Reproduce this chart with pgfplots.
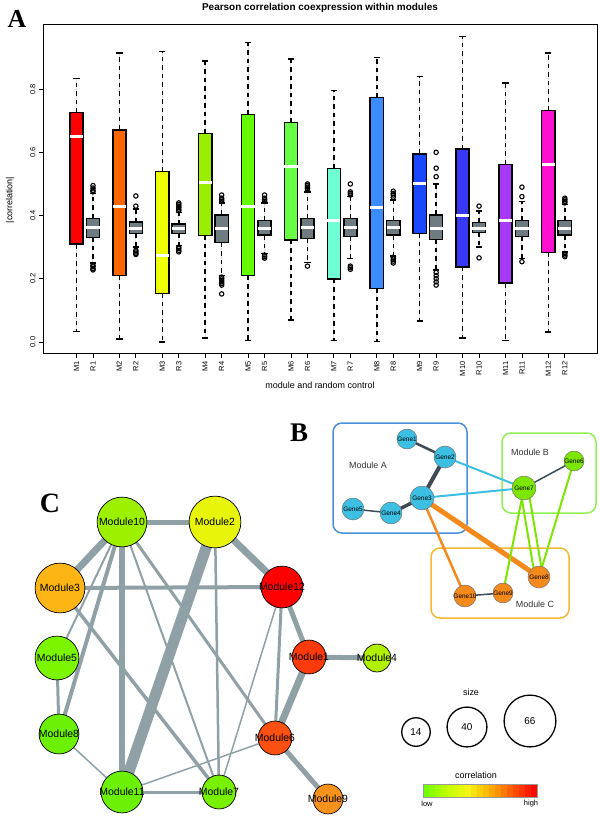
\documentclass[border=0pt]{standalone}
\usepackage{fontspec}
\setmainfont{Liberation Sans}
\newfontfamily\serifbold{Liberation Serif}
\usepackage{pgfplots}
\pgfplotsset{compat=1.18}
\usepgfplotslibrary{statistics}

% panel A box colours
\definecolor{cM1}{HTML}{FF0000}
\definecolor{cM2}{HTML}{FF6600}
\definecolor{cM3}{HTML}{EEFF00}
\definecolor{cM4}{HTML}{99EE00}
\definecolor{cM5}{HTML}{66FF00}
\definecolor{cM6}{HTML}{66FF44}
\definecolor{cM7}{HTML}{70FFD2}
\definecolor{cM8}{HTML}{3A8CFF}
\definecolor{cM9}{HTML}{1A48FF}
\definecolor{cM10}{HTML}{3838F5}
\definecolor{cM11}{HTML}{A838F8}
\definecolor{cM12}{HTML}{FF10D0}
\definecolor{rgrey}{HTML}{6E7B80}
% networks
\definecolor{edgec}{HTML}{8FA1A6}
\definecolor{gA}{HTML}{3CBFE3}
\definecolor{gB}{HTML}{7DE600}
\definecolor{gC}{HTML}{F58A1C}
\definecolor{dk}{HTML}{3E4A54}
\definecolor{boxA}{HTML}{4A8FDB}
\definecolor{boxB}{HTML}{92EE55}
\definecolor{boxC}{HTML}{F7B733}
\definecolor{n10}{HTML}{9CF000}
\definecolor{n2}{HTML}{E8F50A}
\definecolor{n3}{HTML}{FDB515}
\definecolor{n12}{HTML}{FF0000}
\definecolor{n1}{HTML}{FA3A0A}
\definecolor{n4}{HTML}{B0F000}
\definecolor{n5}{HTML}{7CF500}
\definecolor{n8}{HTML}{6CF005}
\definecolor{n11}{HTML}{6CF005}
\definecolor{n7}{HTML}{78F000}
\definecolor{n6}{HTML}{FA5012}
\definecolor{n9}{HTML}{F7921C}

\pgfplotsset{
  colormap={corr}{rgb255=(102,255,0) rgb255=(190,255,0) rgb255=(245,245,20) rgb255=(255,170,0) rgb255=(255,80,0) rgb255=(255,0,0)},
  boxplot/draw/lower whisker/.code={%
    \draw[black, dash pattern=on 4.5bp off 4bp, line width=1.5bp]
      (boxplot whisker cs:\pgfplotsboxplotvalue{lower quartile},0.5) --
      (boxplot whisker cs:\pgfplotsboxplotvalue{lower whisker},0.5);
    \draw[black, solid, line width=1.5bp]
      (boxplot whisker cs:\pgfplotsboxplotvalue{lower whisker},0) --
      (boxplot whisker cs:\pgfplotsboxplotvalue{lower whisker},1);
  },
  boxplot/draw/upper whisker/.code={%
    \draw[black, dash pattern=on 4.5bp off 4bp, line width=1.5bp]
      (boxplot whisker cs:\pgfplotsboxplotvalue{upper quartile},0.5) --
      (boxplot whisker cs:\pgfplotsboxplotvalue{upper whisker},0.5);
    \draw[black, solid, line width=1.5bp]
      (boxplot whisker cs:\pgfplotsboxplotvalue{upper whisker},0) --
      (boxplot whisker cs:\pgfplotsboxplotvalue{upper whisker},1);
  },
}

% position, colour, lw, lq, median, uq, uw, outliers
\newcommand{\bx}[8]{\addplot[boxplot prepared={draw direction=y, draw position=#1,
  lower whisker=#3, lower quartile=#4, median=#5, upper quartile=#6, upper whisker=#7,
  box extend=0.8, whisker extend=0.38,
  every median/.style={draw=white, line width=3bp}},
  draw=black, fill=#2, line width=1.5bp, mark=o, mark size=2.2bp,
  mark options={solid, black, line width=1.1bp}] coordinates {#8};}

\begin{document}
\begin{tikzpicture}
\useasboundingbox (0bp,0bp) rectangle (600bp,819bp);

% ---------- panel A ----------
\begin{axis}[
  at={(43bp,465bp)}, anchor=south west,
  width=554bp, height=329bp, scale only axis,
  xmin=-1.03, xmax=32.55, ymin=-0.038, ymax=1.003,
  axis line style={line width=1bp},
  tick align=outside, major tick length=4bp, tick pos=left,
  tick style={black, line width=0.8bp},
  xtick={1,2,3.6,4.6,6.2,7.2,8.8,9.8,11.4,12.4,14,15,16.6,17.6,19.2,20.2,21.8,22.8,24.4,25.4,27,28,29.6,30.6},
  xticklabels={M1,R1,M2,R2,M3,R3,M4,R4,M5,R5,M6,R6,M7,R7,M8,R8,M9,R9,M10,R10,M11,R11,M12,R12},
  xticklabel style={rotate=90, anchor=east, font=\fontsize{7.5}{8}\selectfont},
  ytick={0,0.2,0.4,0.6,0.8},
  yticklabels={0.0,0.2,0.4,0.6,0.8},
  yticklabel style={rotate=90, anchor=south, font=\fontsize{7.5}{8}\selectfont},
]
\bx{1}{cM1}{0.033}{0.31}{0.65}{0.726}{0.834}{}
\bx{2}{rgrey}{0.25}{0.331}{0.363}{0.391}{0.47}{(0.475,0.475) (0.48,0.48) (0.487,0.487) (0.495,0.495) (0.243,0.243) (0.238,0.238) (0.232,0.232) (0.228,0.228)}
\bx{3.6}{cM2}{0.01}{0.21}{0.428}{0.671}{0.914}{}
\bx{4.6}{rgrey}{0.30}{0.344}{0.36}{0.379}{0.42}{(0.43,0.43) (0.462,0.462) (0.29,0.29) (0.285,0.285) (0.28,0.28) (0.277,0.277)}
\bx{6.2}{cM3}{0.0}{0.154}{0.275}{0.539}{0.919}{}
\bx{7.2}{rgrey}{0.305}{0.344}{0.358}{0.373}{0.41}{(0.415,0.415) (0.42,0.42) (0.425,0.425) (0.43,0.43) (0.435,0.435) (0.44,0.44) (0.30,0.30) (0.296,0.296) (0.29,0.29) (0.285,0.285)}
\bx{8.8}{cM4}{0.013}{0.337}{0.504}{0.66}{0.889}{}
\bx{9.8}{rgrey}{0.21}{0.314}{0.358}{0.402}{0.44}{(0.445,0.445) (0.45,0.45) (0.455,0.455) (0.465,0.465) (0.205,0.205) (0.2,0.2) (0.195,0.195) (0.19,0.19) (0.185,0.185) (0.18,0.18) (0.152,0.152)}
\bx{11.4}{cM5}{0.004}{0.21}{0.428}{0.72}{0.947}{}
\bx{12.4}{rgrey}{0.28}{0.338}{0.36}{0.384}{0.44}{(0.445,0.445) (0.45,0.45) (0.455,0.455) (0.465,0.465) (0.275,0.275) (0.27,0.27) (0.265,0.265)}
\bx{14}{cM6}{0.07}{0.323}{0.555}{0.694}{0.895}{}
\bx{15}{rgrey}{0.251}{0.328}{0.363}{0.391}{0.475}{(0.48,0.48) (0.485,0.485) (0.49,0.49) (0.495,0.495) (0.5,0.5) (0.24,0.24)}
\bx{16.6}{cM7}{0.004}{0.2}{0.384}{0.549}{0.795}{}
\bx{17.6}{rgrey}{0.264}{0.333}{0.363}{0.391}{0.46}{(0.465,0.465) (0.47,0.47) (0.475,0.475) (0.5,0.5) (0.24,0.24) (0.235,0.235) (0.23,0.23)}
\bx{19.2}{cM8}{0.002}{0.17}{0.426}{0.773}{0.9}{}
\bx{20.2}{rgrey}{0.272}{0.338}{0.363}{0.384}{0.45}{(0.458,0.458) (0.465,0.465) (0.47,0.47) (0.477,0.477) (0.268,0.268) (0.262,0.262) (0.256,0.256) (0.25,0.25)}
\bx{21.8}{cM9}{0.067}{0.344}{0.502}{0.595}{0.84}{}
\bx{22.8}{rgrey}{0.228}{0.325}{0.36}{0.402}{0.50}{(0.523,0.523) (0.55,0.55) (0.6,0.6) (0.22,0.22) (0.21,0.21) (0.2,0.2) (0.19,0.19) (0.18,0.18)}
\bx{24.4}{cM10}{0.013}{0.238}{0.401}{0.61}{0.966}{}
\bx{25.4}{rgrey}{0.30}{0.347}{0.36}{0.378}{0.415}{(0.43,0.43) (0.266,0.266)}
\bx{27}{cM11}{0.005}{0.186}{0.384}{0.562}{0.82}{}
\bx{28}{rgrey}{0.264}{0.333}{0.358}{0.384}{0.445}{(0.46,0.46) (0.49,0.49) (0.254,0.254)}
\bx{29.6}{cM12}{0.032}{0.283}{0.562}{0.732}{0.915}{}
\bx{30.6}{rgrey}{0.285}{0.338}{0.36}{0.384}{0.435}{(0.44,0.44) (0.445,0.445) (0.45,0.45) (0.455,0.455) (0.28,0.28) (0.275,0.275) (0.27,0.27)}
\end{axis}

% ---------- panels B and C, pixel frame ----------
\begin{axis}[
  at={(0bp,0bp)}, anchor=south west,
  width=600bp, height=819bp, scale only axis,
  xmin=0, xmax=600, ymin=0, ymax=819, y dir=reverse,
  hide axis, point meta min=423, point meta max=537,
]
% texts of panel A
\node[font=\bfseries\fontsize{10}{12}\selectfont] at (axis cs:320,8) {Pearson correlation coexpression within modules};
\node[font=\serifbold\bfseries\fontsize{26}{28}\selectfont] at (axis cs:17,19) {A};
\node[rotate=90, font=\fontsize{9}{10}\selectfont] at (axis cs:10,200) {|correlation|};
\node[font=\fontsize{9}{10}\selectfont] at (axis cs:320,385) {module and random control};
\node[font=\serifbold\bfseries\fontsize{27}{29}\selectfont] at (axis cs:299,433) {B};
\node[font=\serifbold\bfseries\fontsize{28}{30}\selectfont] at (axis cs:50,503) {C};

% ---- panel B: module frames
\addplot[boxA, line width=1.5bp, rounded corners=9bp] coordinates {(400,423) (467,423) (467,533) (333,533) (333,423) (400,423)};
\addplot[boxB, line width=1.5bp, rounded corners=9bp] coordinates {(549,433) (596,433) (596,513) (502,513) (502,433) (549,433)};
\addplot[boxC, line width=1.5bp, rounded corners=9bp] coordinates {(500,548) (569,548) (569,618) (431,618) (431,548) (500,548)};
\node[font=\fontsize{9}{10}\selectfont, text=black!80] at (axis cs:368,465) {Module A};
\node[font=\fontsize{9}{10}\selectfont, text=black!80] at (axis cs:530,452) {Module B};
\node[font=\fontsize{9}{10}\selectfont, text=black!80] at (axis cs:535,604) {Module C};
% ---- panel B: edges
\addplot[dk, line width=2.5bp] coordinates {(407,439) (445,457)};
\addplot[dk, line width=4bp] coordinates {(445,457) (422,498)};
\addplot[dk, line width=3.5bp] coordinates {(422,498) (391,513)};
\addplot[dk, line width=1.5bp] coordinates {(391,513) (353,509)};
\addplot[gA, line width=2bp] coordinates {(445,457) (524,488)};
\addplot[gA, line width=2bp] coordinates {(422,498) (524,488)};
\addplot[dk, line width=1.5bp] coordinates {(524,488) (574,461)};
\addplot[gC, line width=5bp] coordinates {(422,498) (539,577)};
\addplot[gC, line width=2.5bp] coordinates {(422,498) (465,596)};
\addplot[dk, line width=1.5bp] coordinates {(465,596) (503,593)};
\addplot[gB, line width=2bp] coordinates {(524,488) (503,593)};
\addplot[gB, line width=2bp] coordinates {(520,488) (535,577)};
\addplot[gB, line width=2bp] coordinates {(528,488) (543,577)};
\addplot[gB, line width=2bp] coordinates {(574,461) (539,577)};
% ---- panel B: genes
\addplot[scatter, only marks, point meta=explicit symbolic,
  scatter/classes={
    gA={mark=*, fill=gA, draw=black!55, line width=0.5bp},
    gB={mark=*, fill=gB, draw=black!55, line width=0.5bp},
    gC={mark=*, fill=gC, draw=black!55, line width=0.5bp}},
  visualization depends on={\thisrow{r}\as\rad},
  scatter/@pre marker code/.append style={/tikz/mark size=\rad}]
  table[meta=c] {
x y r c
407 439 10 gA
445 457 11 gA
422 498 12 gA
391 513 11 gA
353 509 11 gA
574 461 10 gB
524 488 12 gB
539 577 11 gC
503 593 10 gC
465 596 11 gC
};
\addplot[only marks, mark=none,
  visualization depends on={value \thisrow{name}\as\lab},
  nodes near coords={\lab},
  every node near coord/.append style={anchor=center, text=black, font=\fontsize{6.5}{7}\selectfont, inner sep=0pt}]
  table {
x y name
407 439 Gene1
445 457 Gene2
422 498 Gene3
391 513 Gene4
353 509 Gene5
574 461 Gene6
524 488 Gene7
539 577 Gene8
503 593 Gene9
465 596 Gene10
};

% ---- panel C: edges
\addplot[edgec, line width=5bp] coordinates {(122,522) (215,522)};
\addplot[edgec, line width=7bp] coordinates {(122,522) (60,588)};
\addplot[edgec, line width=2bp] coordinates {(122,522) (57,658)};
\addplot[edgec, line width=4bp] coordinates {(122,522) (59,734)};
\addplot[edgec, line width=6bp] coordinates {(122,522) (122,792)};
\addplot[edgec, line width=2bp] coordinates {(122,522) (219,792)};
\addplot[edgec, line width=3bp] coordinates {(122,522) (275,738)};
\addplot[edgec, line width=11bp] coordinates {(215,522) (122,792)};
\addplot[edgec, line width=7bp] coordinates {(215,522) (282,587)};
\addplot[edgec, line width=2.5bp] coordinates {(215,522) (219,792)};
\addplot[edgec, line width=4bp] coordinates {(60,588) (282,587)};
\addplot[edgec, line width=3.5bp] coordinates {(60,588) (219,792)};
\addplot[edgec, line width=3bp] coordinates {(57,658) (59,734)};
\addplot[edgec, line width=1.5bp] coordinates {(59,734) (122,792)};
\addplot[edgec, line width=3bp] coordinates {(122,792) (219,792)};
\addplot[edgec, line width=1.5bp] coordinates {(122,792) (275,738)};
\addplot[edgec, line width=5bp] coordinates {(282,587) (309,657)};
\addplot[edgec, line width=7bp] coordinates {(309,657) (275,738)};
\addplot[edgec, line width=3bp] coordinates {(282,587) (275,738)};
\addplot[edgec, line width=1.5bp] coordinates {(282,587) (219,792)};
\addplot[edgec, line width=5bp] coordinates {(309,657) (377,658)};
\addplot[edgec, line width=5bp] coordinates {(275,738) (328,799)};
% ---- panel C: modules
\addplot[scatter, only marks, point meta=explicit symbolic,
  scatter/classes={
    n10={mark=*, fill=n10, draw=black, line width=0.7bp},
    n2={mark=*, fill=n2, draw=black, line width=0.7bp},
    n3={mark=*, fill=n3, draw=black, line width=0.7bp},
    n12={mark=*, fill=n12, draw=black, line width=0.7bp},
    n1={mark=*, fill=n1, draw=black, line width=0.7bp},
    n4={mark=*, fill=n4, draw=black, line width=0.7bp},
    n5={mark=*, fill=n5, draw=black, line width=0.7bp},
    n8={mark=*, fill=n8, draw=black, line width=0.7bp},
    n11={mark=*, fill=n11, draw=black, line width=0.7bp},
    n7={mark=*, fill=n7, draw=black, line width=0.7bp},
    n6={mark=*, fill=n6, draw=black, line width=0.7bp},
    n9={mark=*, fill=n9, draw=black, line width=0.7bp}},
  visualization depends on={\thisrow{r}\as\rad},
  scatter/@pre marker code/.append style={/tikz/mark size=\rad}]
  table[meta=c] {
x y r c
122 522 25 n10
215 522 26 n2
60 588 25 n3
282 587 21 n12
309 657 17 n1
377 658 14 n4
57 658 22 n5
59 734 20 n8
122 792 21 n11
219 792 17 n7
275 738 17 n6
328 799 15 n9
};
\addplot[only marks, mark=none,
  visualization depends on={value \thisrow{name}\as\lab},
  nodes near coords={\lab},
  every node near coord/.append style={anchor=center, text=black, font=\fontsize{10.5}{12}\selectfont, inner sep=0pt}]
  table {
x y name
122 522 Module10
215 522 Module2
60 588 Module3
282 587 Module12
309 657 Module1
377 658 Module4
57 658 Module5
59 734 Module8
122 792 Module11
219 792 Module7
275 738 Module6
328 799 Module9
};

% ---- size legend
\node[font=\fontsize{9}{10}\selectfont] at (axis cs:471,692) {size};
\addplot[scatter, only marks, point meta=explicit symbolic,
  scatter/classes={w={mark=*, fill=white, draw=black, line width=1.3bp}},
  visualization depends on={\thisrow{r}\as\rad},
  scatter/@pre marker code/.append style={/tikz/mark size=\rad}]
  table[meta=c] {
x y r c
416 732 14.3 w
467 727 20 w
530 721 26 w
};
\addplot[only marks, mark=none,
  visualization depends on={value \thisrow{name}\as\lab},
  nodes near coords={\lab},
  every node near coord/.append style={anchor=center, text=black, font=\fontsize{10}{12}\selectfont, inner sep=0pt}]
  table {
x y name
416 732 14
467 727 40
530 721 66
};

% ---- colour legend
\node[font=\fontsize{9}{10}\selectfont] at (axis cs:476,775) {correlation};
\addplot[surf, shader=flat mean, mesh/rows=2, point meta=x] table {
x y
423 784
429 784
435 784
441 784
447 784
453 784
459 784
465 784
471 784
477 784
483 784
489 784
495 784
501 784
507 784
513 784
519 784
525 784
531 784
537 784
423 797
429 797
435 797
441 797
447 797
453 797
459 797
465 797
471 797
477 797
483 797
489 797
495 797
501 797
507 797
513 797
519 797
525 797
531 797
537 797
};
\addplot[black!40, line width=0.6bp] coordinates {(423,784) (537,784) (537,797) (423,797) (423,784)};
\node[font=\fontsize{7.5}{9}\selectfont] at (axis cs:427,804) {low};
\node[font=\fontsize{7.5}{9}\selectfont] at (axis cs:531,804) {high};
\end{axis}
\end{tikzpicture}
\end{document}
